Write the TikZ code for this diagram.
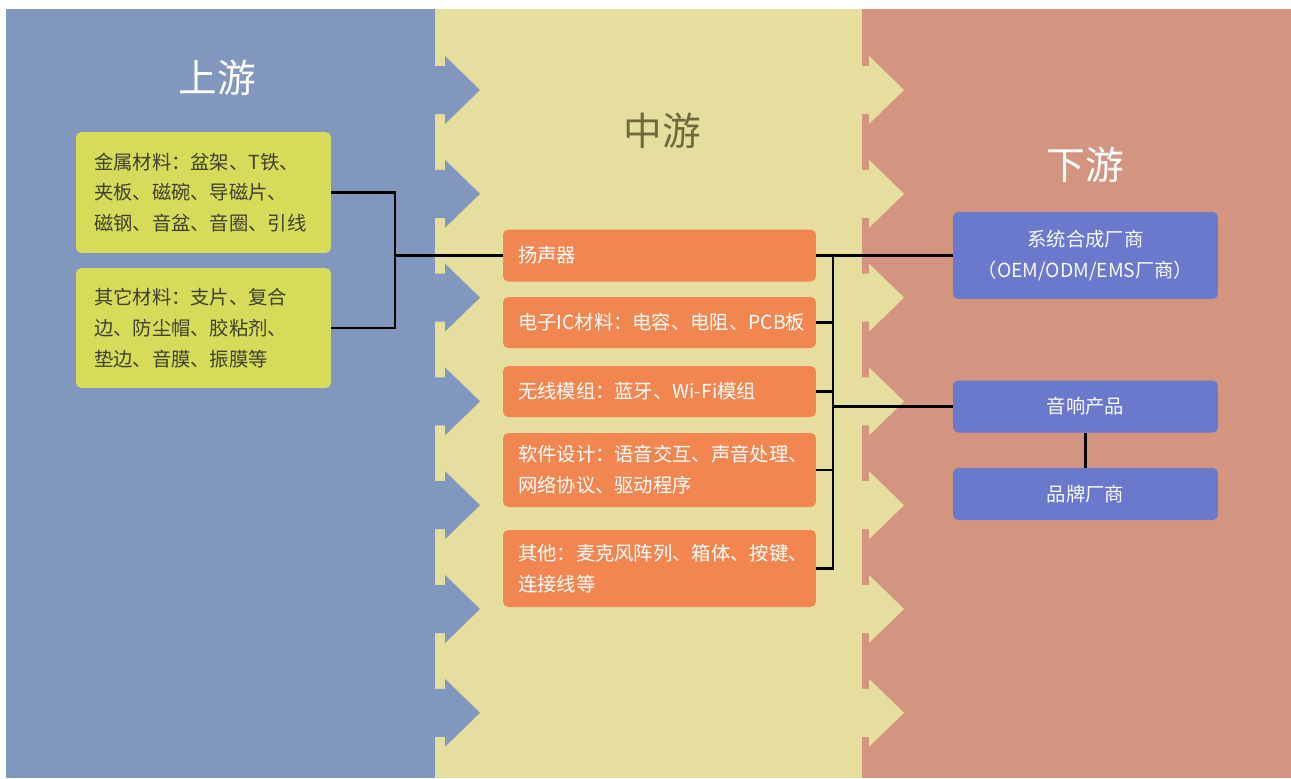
\documentclass[tikz,border=0pt]{standalone}
\usepackage{fontspec}
\setmainfont{Noto Sans CJK SC}
\usepackage{xcolor}
\definecolor{shangbg}{HTML}{8297BE}
\definecolor{zhongbg}{HTML}{E6DE9F}
\definecolor{xiabg}{HTML}{D49580}
\definecolor{lvk}{HTML}{D7DB5A}
\definecolor{chengk}{HTML}{F28650}
\definecolor{lank}{HTML}{6B79CC}
\definecolor{olive}{HTML}{6D6A3C}
\definecolor{lvtext}{HTML}{3F4030}
\begin{document}
\begin{tikzpicture}[x=0.02cm, y=-0.02cm,
    title/.style={font=\fontsize{22pt}{26pt}\selectfont},
    lbox/.style={fill=lvk, rounded corners=3pt, text=lvtext, align=left, text width=4.38cm, inner xsep=0.36cm, inner ysep=0pt, font=\fontsize{11pt}{17.6pt}\selectfont},
    mbox/.style={fill=chengk, rounded corners=3pt, text=white, align=left, text width=5.66cm, inner xsep=0.3cm, inner ysep=0pt, font=\fontsize{11pt}{17.6pt}\selectfont},
    rbox/.style={fill=lank, rounded corners=3pt, text=white!95!gray, align=center, text width=4.9cm, inner xsep=0.2cm, inner ysep=0pt, font=\fontsize{11pt}{17.6pt}\selectfont},
    link/.style={line width=1.6pt, black}]
    \useasboundingbox (0,0) rectangle (1291,778);
    \fill[shangbg] (6,9) rectangle (436,778);%上游
    \fill[zhongbg] (435,9) rectangle (863,778);%中游
    \fill[xiabg] (862,9) rectangle (1291,778);%下游

    \foreach\k in {0,...,6}{
        \pgfmathsetmacro\y{90+103.8*\k}
        \fill[shangbg] (434,\y-24) -- (445,\y-24) -- (445,\y-34) -- (480,\y) -- (445,\y+34) -- (445,\y+24) -- (434,\y+24) -- cycle;
        \fill[zhongbg] (861,\y-24) -- (869,\y-24) -- (869,\y-34) -- (904,\y) -- (869,\y+34) -- (869,\y+24) -- (861,\y+24) -- cycle;
    }

    \node[title, text=white] (shang) at (217,78) {上游};
    \node[title, text=olive] (zhong) at (662,131) {中游};
    \node[title, text=white] (xia) at (1085,165) {下游};

    \node[lbox, minimum height=2.42cm] (jinshu) at (203.5,192.5) {金属材料：盆架、T铁、\\夹板、磁碗、导磁片、\\磁钢、音盆、音圈、引线};
    \node[lbox, minimum height=2.4cm] (qita) at (203.5,328) {其它材料：支片、复合\\边、防尘帽、胶粘剂、\\垫边、音膜、振膜等};

    \node[mbox, minimum height=1.04cm] (yang) at (659.5,255.5) {扬声器};
    \node[mbox, minimum height=1.02cm] (dianzi) at (659.5,322.5) {电子IC材料：电容、电阻、PCB板};
    \node[mbox, minimum height=1.02cm] (wuxian) at (659.5,391.5) {无线模组：蓝牙、Wi-Fi模组};
    \node[mbox, minimum height=1.48cm] (ruanjian) at (659.5,470) {软件设计：语音交互、声音处理、\\网络协议、驱动程序};
    \node[mbox, minimum height=1.54cm] (qitam) at (659.5,568.5) {其他：麦克风阵列、箱体、按键、\\连接线等};

    \node[rbox, minimum height=1.74cm] (xitong) at (1085.5,255.5) {系统合成厂商\\（OEM/ODM/EMS厂商）};
    \node[rbox, minimum height=1.04cm] (yinxiang) at (1085.5,406.5) {音响产品};
    \node[rbox, minimum height=1.04cm] (pinpai) at (1085.5,494) {品牌厂商};

    \coordinate (lj) at (395,255.5);%左の分岐
    \coordinate (rj) at (833,255.5);%右の分岐
    \draw[link] (jinshu.east) -| (lj) |- (qita.east);
    \draw[link] (lj) -- (yang.west);
    \draw[link] (yang.east) -- (xitong.west);
    \draw[link] (rj) |- (qitam.east);
    \foreach\n in {dianzi,wuxian,ruanjian}\draw[link] (\n.east) -- (\n.east -| rj);
    \draw[link] (yinxiang.west) -- (yinxiang.west -| rj);
    \draw[link] (yinxiang) -- (pinpai);
\end{tikzpicture}
\end{document}
